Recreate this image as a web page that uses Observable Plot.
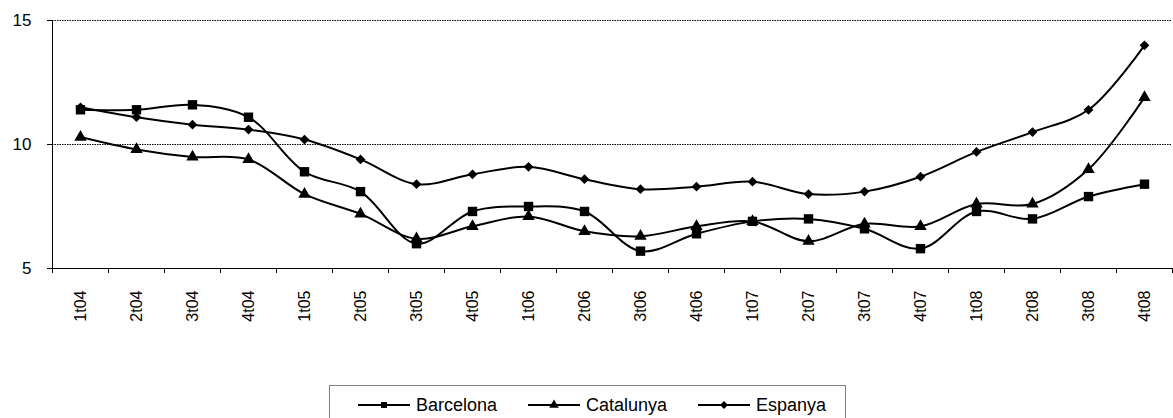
<!DOCTYPE html>
<html><head><meta charset="utf-8">
<script src="https://cdn.jsdelivr.net/npm/d3@7"></script>
<script src="https://cdn.jsdelivr.net/npm/@observablehq/plot@0.6"></script>
<style>
body{margin:0;background:#fff;font-family:Arial,"Liberation Sans",sans-serif;}
#wrap{position:relative;width:1173px;height:418px;overflow:hidden;background:#fff}
#legend{position:absolute;left:329px;top:385px;width:517px;height:50px;border:1px solid #808080;box-sizing:border-box;background:#fff}
</style></head><body><div id="wrap"><div id="chart"></div><div id="legend"></div></div>
<script>
const quarters = ["1t04","2t04","3t04","4t04","1t05","2t05","3t05","4t05","1t06","2t06","3t06","4t06","1t07","2t07","3t07","4t07","1t08","2t08","3t08","4t08"];
const barcelona = [11.4,11.4,11.6,11.1,8.9,8.1,6.0,7.3,7.5,7.3,5.7,6.4,6.9,7.0,6.6,5.8,7.3,7.0,7.9,8.4];
const catalunya = [10.3,9.8,9.5,9.4,8.0,7.2,6.2,6.7,7.1,6.5,6.3,6.7,6.9,6.1,6.8,6.7,7.6,7.6,9.0,11.9];
const espanya = [11.5,11.1,10.8,10.6,10.2,9.4,8.4,8.8,9.1,8.6,8.2,8.3,8.5,8.0,8.1,8.7,9.7,10.5,11.4,14.0];
const yTicks = [5,10,15];
const gridValues = [10,15];
const seriesNames = ["Barcelona","Catalunya","Espanya"];
const seriesSymbols = ["square","triangle","diamond2"];
const seriesR = [5.3,4.6,4.4];

const seriesValues = [barcelona,catalunya,espanya];
const data = seriesNames.flatMap((s,k)=>seriesValues[k].map((v,i)=>({series:s,i,q:quarters[i],v})));
const font = "Arial, 'Liberation Sans', sans-serif";

const chart = Plot.plot({
  width:1173, height:375,
  marginLeft:52, marginRight:1, marginTop:20, marginBottom:107,
  x:{type:"linear", domain:[-0.5, quarters.length-0.5], axis:null, label:null},
  y:{domain:[5,15], axis:null, label:null},
  style:{fontFamily:font, fontSize:"17px", color:"#000", background:"#fff", overflow:"visible"},
  marks:[
    Plot.ruleY(gridValues,{stroke:"#000", strokeDasharray:"1.5,1", strokeWidth:1}),
    Plot.ruleX([-0.5],{stroke:"#000", strokeWidth:1}),
    Plot.ruleY([5],{stroke:"#000", strokeWidth:1}),
    Plot.axisY({ticks:yTicks, tickSize:5, tickPadding:16, fontSize:17, stroke:"#000", label:null}),
    Plot.axisX({ticks:d3.range(quarters.length+1).map(i=>i-0.5), tickFormat:()=>"", tickSize:5, stroke:"#000", label:null}),
    Plot.axisX({ticks:d3.range(quarters.length), tickFormat:i=>quarters[i], tickSize:0, tickRotate:-90, tickPadding:22, fontSize:16, label:null}),
    Plot.line(data,{x:"i", y:"v", z:"series", stroke:"#000", strokeWidth:2, curve:"catmull-rom"}),
    ...seriesNames.map((s,k)=>Plot.dot(data.filter(d=>d.series===s),{x:"i", y:"v", symbol:seriesSymbols[k], r:seriesR[k], fill:"#000", stroke:"none"}))
  ]
});
document.getElementById("chart").appendChild(chart);

// legend
const leg = d3.select("#legend").append("svg").attr("width",515).attr("height",48).style("display","block");
const symMap = {square:d3.symbolSquare, triangle:d3.symbolTriangle, diamond2:d3.symbolDiamond2};
const legSizes = [36,40,40];
seriesNames.forEach((s,k)=>{
  const x0 = 28 + k*170, cy = 19;
  const g = leg.append("g");
  g.append("line").attr("x1",x0).attr("x2",x0+52).attr("y1",cy).attr("y2",cy).attr("stroke","#000").attr("stroke-width",2);
  g.append("path").attr("d",d3.symbol(symMap[seriesSymbols[k]], legSizes[k])()).attr("transform",`translate(${x0+26},${cy})`).attr("fill","#000");
  g.append("text").attr("x",x0+58).attr("y",cy).attr("dy","0.35em").attr("font-family",font).attr("font-size",18).attr("fill","#000").text(s);
});
</script></body></html>
